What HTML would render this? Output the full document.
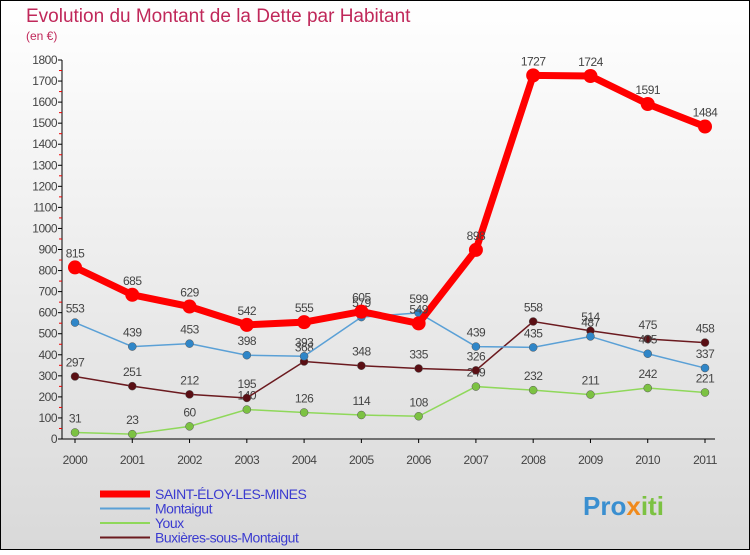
<!DOCTYPE html>
<html><head><meta charset="utf-8"><style>
html,body{margin:0;padding:0}
body{width:750px;height:550px;overflow:hidden;font-family:"Liberation Sans",sans-serif}
</style></head><body>
<svg width="750" height="550" xmlns="http://www.w3.org/2000/svg">
<defs><linearGradient id="bg" x1="0" y1="0" x2="0" y2="1"><stop offset="0" stop-color="#ffffff"/><stop offset="1" stop-color="#d9d9d9"/></linearGradient></defs>
<rect x="0.5" y="0.5" width="749" height="549" fill="url(#bg)" stroke="#000"/>
<text x="26" y="22" font-size="19" fill="#c0285a">Evolution du Montant de la Dette par Habitant</text>
<text x="26" y="40" font-size="12" fill="#c0285a">(en €)</text>
<g id="axes"></g><g id="series"></g><g id="legend"></g>
<g font-size="26" font-weight="bold">
<text x="583" y="515" fill="#3a8fd0">Pro<tspan fill="#f08a1c">x</tspan><tspan fill="#7cc242">iti</tspan></text></g>
</svg>
<script>
const years=["2000","2001","2002","2003","2004","2005","2006","2007","2008","2009","2010","2011"];
const yTicks=[0,100,200,300,400,500,600,700,800,900,1000,1100,1200,1300,1400,1500,1600,1700,1800];
const seriesNames=["SAINT-ÉLOY-LES-MINES","Montaigut","Youx","Buxières-sous-Montaigut"];
const saintEloy=[815,685,629,542,555,605,549,898,1727,1724,1591,1484];
const montaigut=[553,439,453,398,393,579,599,439,435,487,405,337];
const youx=[31,23,60,140,126,114,108,249,232,211,242,221];
const buxieres=[297,251,212,195,368,348,335,326,558,514,475,458];
const NS="http://www.w3.org/2000/svg";
const x0=75,x1=705,yB=439,yT=60,vMax=1800;
const X=i=>x0+i*(x1-x0)/(years.length-1);
const Y=v=>yB-v*(yB-yT)/vMax;
function mk(t,a,p){const e=document.createElementNS(NS,t);for(const k in a)e.setAttribute(k,a[k]);p.appendChild(e);return e;}
const ax=document.getElementById('axes');
let e=mk('line',{x1:62,y1:yT,x2:62,y2:yB,stroke:'#000'},ax);


e=mk('line',{x1:62,y1:yB,x2:x1+10,y2:yB,stroke:'#000'},ax);


yTicks.forEach(v=>{
 mk('line',{x1:58,y1:Y(v),x2:62,y2:Y(v),stroke:'#000'},ax);
 if(v<vMax) mk('line',{x1:59,y1:Y(v+50),x2:62,y2:Y(v+50),stroke:'#e00'},ax);
 const t=mk('text',{x:57,y:Y(v)+4,'font-size':12,'text-anchor':'end',fill:'#444','letter-spacing':'-0.5'},ax);
 t.textContent=v;
 
 
});
years.forEach((y,i)=>{
 mk('line',{x1:X(i),y1:yB,x2:X(i),y2:yB+4,stroke:'#000'},ax);
 const t=mk('text',{x:X(i),y:yB+25,'font-size':12,'text-anchor':'middle',fill:'#444','letter-spacing':'-0.5'},ax);
 t.textContent=y;
 
 
});
const sg=document.getElementById('series');
const defs=[[youx,'#8fd85a','#7cc242',1.5,4,'youx'],[buxieres,'#6b1a1f','#5a0f14',1.5,4,'buxieres'],[montaigut,'#5aa0d6','#2f86c8',1.5,4,'montaigut'],[saintEloy,'#f00','#f00',7,7,'saint-eloy']];
defs.forEach(([d,lc,pc,w,r,n])=>{
 const g=mk('g',{},sg);
 
 
 const l=mk('polyline',{points:d.map((v,i)=>X(i)+','+Y(v)).join(' '),fill:'none',stroke:lc,'stroke-width':w},g);
 
 
 d.forEach((v,i)=>{
  const c=mk('circle',{cx:X(i),cy:Y(v),r:r,fill:pc,stroke:r<5?'#555':'none','stroke-width':0.5},g);
  
  
  const t=mk('text',{x:X(i),y:Y(v)-10,'font-size':12,'text-anchor':'middle',fill:'#444','letter-spacing':'-0.5'},g);
  t.textContent=v;
  
  
 });
});
const lg=document.getElementById('legend');
const lc=[['#f00',7],['#5aa0d6',2],['#8fd85a',2],['#6b1a1f',2]];
seriesNames.forEach((n,i)=>{
 const y=494+i*14.5;
 const g=mk('g',{},lg);
 
 
 mk('line',{x1:100,y1:y,x2:150,y2:y,stroke:lc[i][0],'stroke-width':lc[i][1]},g);
 const t=mk('text',{x:155,y:y+5,'font-size':14,fill:'#3b3bd0','letter-spacing':'-0.5'},g);
 t.textContent=n;
});
</script>
</body></html>
